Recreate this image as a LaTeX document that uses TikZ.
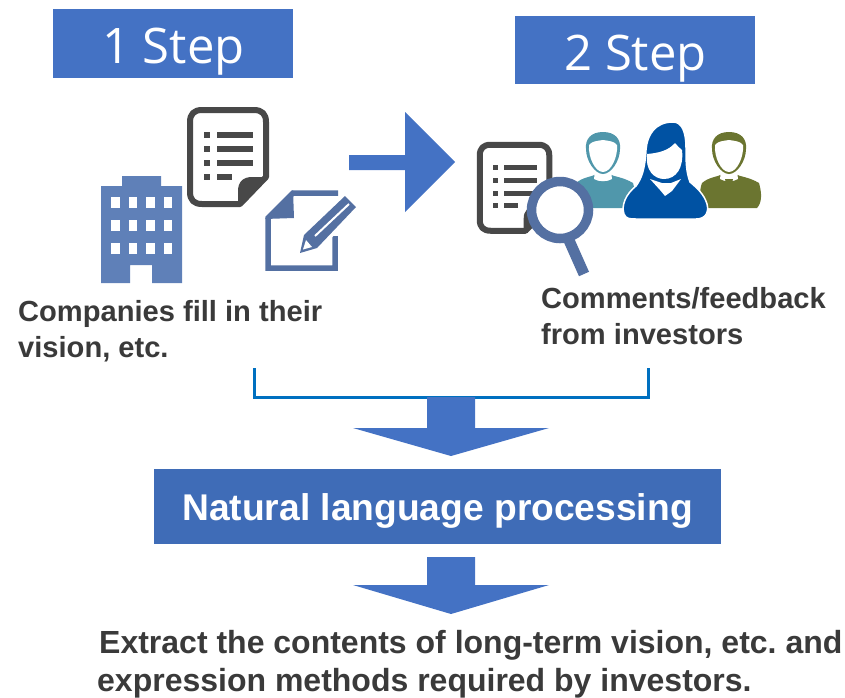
\documentclass[tikz,border=0pt]{standalone}
\usepackage{fontspec}
\setmainfont{Liberation Sans}
\newfontfamily\stepfont{Open Sans}
\definecolor{stepblue}{HTML}{4472C4}
\definecolor{nlpblue}{HTML}{3F6CB7}
\definecolor{txt}{HTML}{3A3A3A}
\definecolor{docgrey}{HTML}{484848}
\definecolor{bldg}{HTML}{5F80B8}
\definecolor{editblue}{HTML}{5470A2}
\definecolor{teal}{HTML}{5097AB}
\definecolor{royal}{HTML}{0052A3}
\definecolor{olive}{HTML}{6B7530}
\definecolor{bracketblue}{HTML}{0070C0}
\newcommand{\listdoc}{%
  \draw[docgrey,line width=6pt,fill=white,line join=round] (15,3) -- (67,3) .. controls (75,3) and (79,7) .. (79,15) -- (79,70) -- (53,97) -- (15,97) .. controls (7,97) and (3,93) .. (3,85) -- (3,15) .. controls (3,7) and (7,3) .. (15,3) -- cycle;
  \fill[docgrey] (81,70) -- (54,99) -- (51,99) -- (51,84) .. controls (51,75) and (56,70) .. (65,70) -- cycle;
  \foreach \yy/\xe in {25/66,39/66,53/66,67/45}{
    \fill[docgrey] (17,\yy) rectangle ++(6,5.5);
    \fill[docgrey] (30,\yy) rectangle (\xe,\yy+5.5);
  }%
}
\newcommand{\malefig}[1]{%
  \fill[#1] (-27,30) .. controls (-20,24) and (-12,24) .. (-6,21) -- (6,21) .. controls (12,24) and (20,24) .. (30,30)
     .. controls (33,40) and (33,50) .. (28,55) -- (-24,55) .. controls (-30,50) and (-30,38) .. (-27,30) -- cycle;
  \fill[white] (-8,18) -- (8,18) -- (9,26) .. controls (4,29) and (-4,29) .. (-9,26) -- cycle;
  \fill[#1] (0,-21) .. controls (-12,-21) and (-18,-14) .. (-17,-4) .. controls (-17,8) and (-8,21) .. (0,21) .. controls (8,21) and (17,8) .. (17,-4) .. controls (18,-14) and (12,-21) .. (0,-21) -- cycle;
  \fill[white] (0,-13) .. controls (-6,-12) and (-11,-12) .. (-14,-8) .. controls (-15,4) and (-8,19) .. (0,19) .. controls (8,19) and (15,4) .. (14,-8) .. controls (11,-12) and (6,-12) .. (0,-13) -- cycle;
}
\tikzset{
  stepbox/.style={fill=stepblue,draw=none,minimum width=240pt,minimum height=69pt,inner sep=0pt,text depth=0pt,text=white,font=\stepfont\fontsize{49}{52}\selectfont},
  label/.style={anchor=base west,inner sep=0pt,text=txt,font=\bfseries\fontsize{29.1}{32}\selectfont},
  widelabel/.style={label,font=\bfseries\fontsize{32}{36}\selectfont},
  blockarrow/.style={fill=stepblue,draw=none},
  bracket/.style={draw=bracketblue,line width=3pt},
}
\begin{document}
\frenchspacing
\begin{tikzpicture}[x=1pt,y=-1pt]
\useasboundingbox (0,0) rectangle (845,697);
% step boxes
\node[stepbox,text height=36pt] (s1) at (173,43.5) {\raisebox{-2pt}{\hspace{1pt}1 Step}};
\node[stepbox,minimum height=68pt,text height=36pt] (s2) at (635,50) {\raisebox{-2pt}{\hspace{1pt}2 Step}};
% building
\fill[bldg] (101,283) -- (101,186) -- (122,186) -- (122,176) -- (161,176) -- (161,186) -- (182,186) -- (182,283) -- (152,283) -- (152,265) -- (130,265) -- (130,283) -- cycle;
\foreach \yy in {197,220,243}{\foreach \xx in {111,128.5,146,163.5}{\fill[white] (\xx,\yy) rectangle ++(8.5,11);}}
% list document 1
\begin{scope}[shift={(187,107)}]\listdoc\end{scope}
% edit icon
\draw[editblue,line width=5.5pt,line join=miter] (338,193) -- (293,193) -- (268,218) -- (268,268) -- (335,268) -- (335,236);
\fill[editblue] (265,219) -- (293,190) -- (294,218) -- cycle;
\fill[white] (298,254) -- (303,231) -- (344,191) -- (361,207) -- (320,250) -- cycle;
\fill[editblue] (300,253) -- (304,235) -- (345,196) -- (356,207) -- (317,248) -- cycle;
\draw[white,line width=2pt] (315,236) -- (349,204);
\fill[white] (306,240) -- (312,247) -- (303,249.5) -- cycle;
% arrow between steps
\fill[blockarrow] (349,155) -- (405,155) -- (405,112) -- (455,162) -- (405,212) -- (405,170) -- (349,170) -- cycle;
% investors
\begin{scope}[shift={(603,153)}]\malefig{teal}\end{scope}
\begin{scope}[shift={(729,153)}]\malefig{olive}\end{scope}
\fill[white] (722,176) -- (736,176) -- (735,180) -- (723,180) -- cycle;
\fill[olive] (725,179) -- (733,179) -- (731.5,186) -- (733,192) -- (729,194) -- (725,192) -- (726.5,186) -- cycle;
\path[fill=royal,draw=white,line width=1.5pt]
  (673,122) .. controls (655,122) and (647,135) .. (646,150) .. controls (645,168) and (642,178) .. (636,186)
  .. controls (626,194) and (621,205) .. (624,214) .. controls (626,219) and (630,219) .. (636,219)
  -- (696,219) .. controls (706,219) and (709,212) .. (707,204) .. controls (704,194) and (697,188) .. (690,182)
  .. controls (686,172) and (686,160) .. (686,148) .. controls (686,132) and (682,122) .. (673,122) -- cycle;
\fill[white] (675,143) .. controls (668,151) and (658,153) .. (647,154) .. controls (645,170) and (654,179) .. (664,179) .. controls (676,179) and (684,168) .. (682,150) .. controls (680,148) and (677,146) .. (675,143) -- cycle;
\fill[white] (650,179) -- (662,183) -- (671,183) -- (681,179) -- (672,191) -- (665,196) -- (660,190) -- cycle;
% list document 2 and magnifier
\begin{scope}[shift={(477,142)},scale=.915]\listdoc\end{scope}
\draw[editblue,line width=11pt] (568,238) -- (584,274);
\draw[editblue,line width=9.5pt,fill=white] (560,210) circle[radius=28.5pt];
% labels
\node[label] (t1) at (18,321) {Companies fill in their};
\node[label] (t2) at (18,357) {vision, etc.};
\node[label] (t3) at (541,308) {Comments/feedback};
\node[label] (t4) at (541,344) {from investors};
% bracket
\coordinate (bl) at (254,368);
\coordinate (br) at (648,368);
\draw[bracket] (bl) -- ++(0,29) -| (br);
% down arrow 1
\fill[blockarrow] (427,397) -- (475,397) -- (475,428) -- (549,428) -- (451,456) -- (353,428) -- (427,428) -- cycle;
% NLP box
\node[fill=nlpblue,minimum width=567pt,minimum height=75pt,inner sep=0pt,text depth=0pt,text=white,font=\bfseries\fontsize{37.2}{40}\selectfont] (nlp) at (437.5,506.5) {\raisebox{-2pt}{Natural language processing}};
% down arrow 2
\fill[blockarrow] (427,557) -- (475,557) -- (475,585) -- (549,585) -- (451,614) -- (353,585) -- (427,585) -- cycle;
% result text
\node[widelabel] (t5) at (99,653) {Extract the contents of long-term vision, etc. and};
\node[widelabel] (t6) at (97,691) {expression methods required by investors.};
\end{tikzpicture}
\end{document}
